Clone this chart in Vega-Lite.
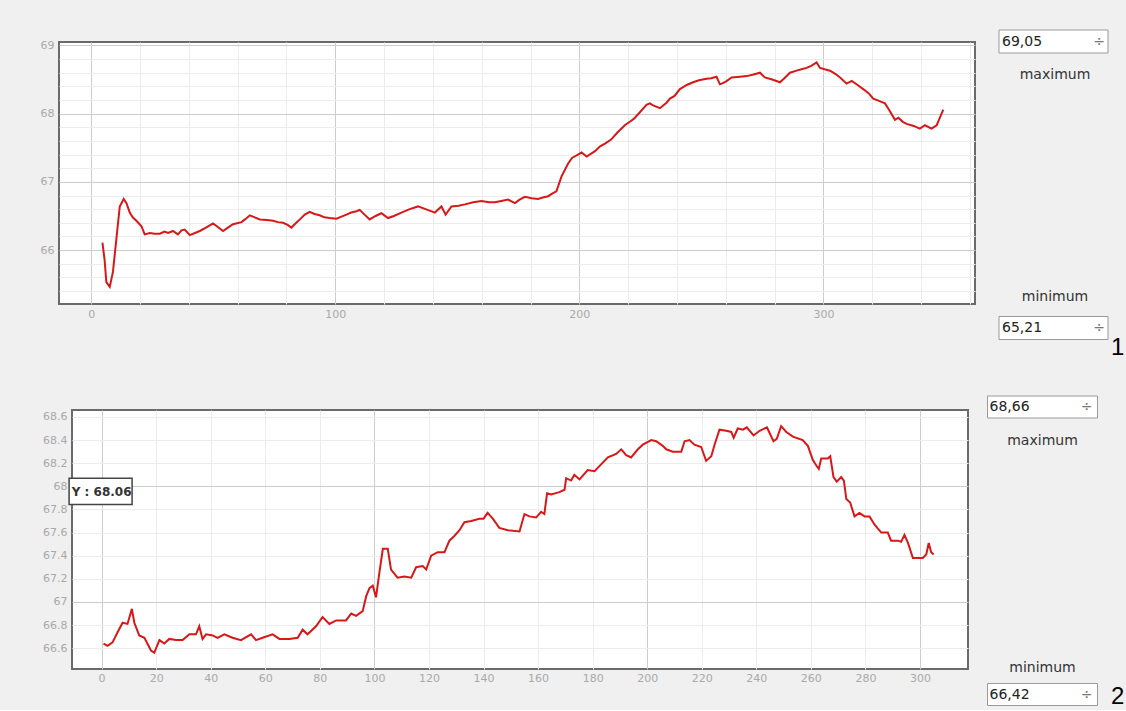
{
  "$schema": "https://vega.github.io/schema/vega-lite/v6.json",
  "background": "#f0f0f0",
  "padding": {"left": 39, "top": 27, "right": 0, "bottom": 0},
  "datasets": {
    "run1": [
      {"t":4.6,"v":66.11},{"t":5.5,"v":65.85},{"t":6.2,"v":65.53},{"t":7.6,"v":65.46},{"t":8.9,"v":65.68},{"t":10.3,"v":66.16},{"t":11.7,"v":66.64},{"t":13.3,"v":66.75},{"t":14.4,"v":66.69},{"t":15.8,"v":66.55},{"t":17,"v":66.48},{"t":18.5,"v":66.43},{"t":20.6,"v":66.35},{"t":21.9,"v":66.23},{"t":24,"v":66.25},{"t":26,"v":66.24},{"t":28.1,"v":66.24},{"t":30,"v":66.27},{"t":31.5,"v":66.25},{"t":33.5,"v":66.28},{"t":35.5,"v":66.23},{"t":37,"v":66.29},{"t":38.3,"v":66.3},{"t":40.4,"v":66.22},{"t":42.5,"v":66.25},{"t":44.5,"v":66.28},{"t":47,"v":66.33},{"t":49.9,"v":66.39},{"t":51.5,"v":66.35},{"t":54,"v":66.28},{"t":56,"v":66.33},{"t":58.1,"v":66.38},{"t":61.6,"v":66.41},{"t":63,"v":66.45},{"t":65,"v":66.51},{"t":67,"v":66.48},{"t":69.1,"v":66.45},{"t":72,"v":66.44},{"t":74.5,"v":66.43},{"t":76.5,"v":66.41},{"t":78.6,"v":66.4},{"t":80.5,"v":66.37},{"t":82,"v":66.33},{"t":84,"v":66.4},{"t":85.5,"v":66.45},{"t":87.5,"v":66.52},{"t":89.5,"v":66.56},{"t":91.5,"v":66.53},{"t":93.6,"v":66.51},{"t":95.5,"v":66.48},{"t":97.7,"v":66.47},{"t":100.5,"v":66.46},{"t":102.5,"v":66.49},{"t":104.6,"v":66.52},{"t":106.5,"v":66.55},{"t":108.7,"v":66.57},{"t":110,"v":66.59},{"t":112,"v":66.52},{"t":114.1,"v":66.45},{"t":116.5,"v":66.5},{"t":118.9,"v":66.54},{"t":121.6,"v":66.47},{"t":124,"v":66.5},{"t":127.1,"v":66.55},{"t":130.5,"v":66.6},{"t":133.9,"v":66.64},{"t":137,"v":66.6},{"t":140.8,"v":66.55},{"t":143.5,"v":66.64},{"t":145.2,"v":66.52},{"t":147.6,"v":66.64},{"t":150.5,"v":66.65},{"t":153.1,"v":66.67},{"t":156.5,"v":66.7},{"t":159.9,"v":66.72},{"t":163,"v":66.7},{"t":165.4,"v":66.7},{"t":168,"v":66.72},{"t":170.8,"v":66.74},{"t":173.6,"v":66.69},{"t":175.5,"v":66.74},{"t":177.7,"v":66.78},{"t":180.5,"v":66.76},{"t":183.1,"v":66.75},{"t":185,"v":66.77},{"t":187.2,"v":66.79},{"t":189,"v":66.83},{"t":190.6,"v":66.86},{"t":192.7,"v":67.08},{"t":195.4,"v":67.27},{"t":197,"v":67.35},{"t":198.9,"v":67.39},{"t":200.9,"v":67.43},{"t":203,"v":67.37},{"t":206.4,"v":67.45},{"t":208.5,"v":67.52},{"t":210.5,"v":67.56},{"t":213,"v":67.62},{"t":215.5,"v":67.72},{"t":218.6,"v":67.83},{"t":221.4,"v":67.9},{"t":222.5,"v":67.93},{"t":224.8,"v":68.02},{"t":227.5,"v":68.13},{"t":228.9,"v":68.15},{"t":230.2,"v":68.12},{"t":233,"v":68.08},{"t":235.7,"v":68.16},{"t":237.1,"v":68.22},{"t":239,"v":68.26},{"t":241.2,"v":68.36},{"t":244,"v":68.42},{"t":246.6,"v":68.46},{"t":249,"v":68.49},{"t":252.1,"v":68.51},{"t":254,"v":68.52},{"t":256.2,"v":68.54},{"t":257.6,"v":68.43},{"t":258.3,"v":68.44},{"t":260,"v":68.47},{"t":262.4,"v":68.53},{"t":265.8,"v":68.54},{"t":268.5,"v":68.55},{"t":271,"v":68.57},{"t":274,"v":68.6},{"t":276,"v":68.53},{"t":279,"v":68.5},{"t":282.2,"v":68.46},{"t":284,"v":68.52},{"t":286.3,"v":68.6},{"t":289,"v":68.63},{"t":291,"v":68.65},{"t":293.1,"v":68.67},{"t":295,"v":68.7},{"t":297.2,"v":68.75},{"t":298.6,"v":68.67},{"t":300.5,"v":68.65},{"t":302.7,"v":68.63},{"t":305,"v":68.58},{"t":306.8,"v":68.53},{"t":309.5,"v":68.44},{"t":311.6,"v":68.48},{"t":314,"v":68.42},{"t":316.3,"v":68.36},{"t":318.5,"v":68.3},{"t":320.4,"v":68.22},{"t":322.5,"v":68.19},{"t":325.2,"v":68.15},{"t":327,"v":68.05},{"t":329.3,"v":67.91},{"t":330.7,"v":67.94},{"t":332.5,"v":67.88},{"t":334.1,"v":67.85},{"t":337,"v":67.82},{"t":339.5,"v":67.78},{"t":341.6,"v":67.83},{"t":344.3,"v":67.78},{"t":346.4,"v":67.83},{"t":347.8,"v":67.95},{"t":349.1,"v":68.06}
    ],
    "run2": [
      {"t":0.7,"v":66.64},{"t":2.2,"v":66.62},{"t":4,"v":66.65},{"t":5.9,"v":66.74},{"t":7.7,"v":66.82},{"t":9.5,"v":66.81},{"t":11.1,"v":66.94},{"t":12,"v":66.82},{"t":13.8,"v":66.71},{"t":15.7,"v":66.69},{"t":18.1,"v":66.58},{"t":19.3,"v":66.56},{"t":21.2,"v":66.67},{"t":23,"v":66.64},{"t":24.8,"v":66.68},{"t":27.3,"v":66.67},{"t":29.7,"v":66.67},{"t":32.2,"v":66.72},{"t":34.6,"v":66.72},{"t":35.8,"v":66.79},{"t":37,"v":66.68},{"t":38.3,"v":66.72},{"t":40.7,"v":66.71},{"t":42.5,"v":66.69},{"t":45,"v":66.72},{"t":48,"v":66.69},{"t":51.1,"v":66.67},{"t":54.8,"v":66.72},{"t":56.6,"v":66.67},{"t":59,"v":66.69},{"t":62.7,"v":66.72},{"t":65.2,"v":66.68},{"t":68.8,"v":66.68},{"t":71.9,"v":66.69},{"t":73.7,"v":66.76},{"t":75.5,"v":66.72},{"t":78.6,"v":66.79},{"t":81,"v":66.87},{"t":83.5,"v":66.81},{"t":86,"v":66.84},{"t":89.6,"v":66.84},{"t":91.5,"v":66.9},{"t":93.3,"v":66.88},{"t":95.7,"v":66.92},{"t":97,"v":67.05},{"t":98.2,"v":67.12},{"t":99.4,"v":67.14},{"t":100.6,"v":67.04},{"t":101.8,"v":67.25},{"t":103.1,"v":67.46},{"t":104.9,"v":67.46},{"t":106.1,"v":67.28},{"t":108.5,"v":67.21},{"t":111,"v":67.22},{"t":113.5,"v":67.21},{"t":115.3,"v":67.3},{"t":117.7,"v":67.31},{"t":119,"v":67.28},{"t":120.8,"v":67.4},{"t":123.2,"v":67.43},{"t":125.7,"v":67.43},{"t":127.5,"v":67.53},{"t":129.3,"v":67.57},{"t":131.2,"v":67.62},{"t":133,"v":67.69},{"t":135.5,"v":67.7},{"t":138.5,"v":67.72},{"t":140,"v":67.72},{"t":141.5,"v":67.77},{"t":143.4,"v":67.72},{"t":145.8,"v":67.64},{"t":148.9,"v":67.62},{"t":153.2,"v":67.61},{"t":155,"v":67.76},{"t":156.8,"v":67.74},{"t":159.3,"v":67.73},{"t":161.1,"v":67.78},{"t":162.3,"v":67.76},{"t":163.3,"v":67.94},{"t":164.8,"v":67.93},{"t":167.8,"v":67.95},{"t":169.7,"v":67.97},{"t":170.3,"v":68.07},{"t":172.1,"v":68.05},{"t":173.3,"v":68.1},{"t":175.2,"v":68.06},{"t":178.2,"v":68.14},{"t":180.7,"v":68.13},{"t":183.1,"v":68.19},{"t":185.6,"v":68.25},{"t":188.6,"v":68.28},{"t":190.5,"v":68.32},{"t":192.3,"v":68.27},{"t":194.1,"v":68.25},{"t":196.6,"v":68.32},{"t":198.4,"v":68.36},{"t":201.5,"v":68.4},{"t":203.3,"v":68.39},{"t":205.7,"v":68.35},{"t":207,"v":68.32},{"t":209.4,"v":68.3},{"t":212.5,"v":68.3},{"t":213.7,"v":68.39},{"t":215.5,"v":68.4},{"t":217.3,"v":68.36},{"t":219.8,"v":68.34},{"t":221.6,"v":68.22},{"t":223.5,"v":68.26},{"t":224.7,"v":68.36},{"t":226.5,"v":68.49},{"t":229,"v":68.48},{"t":230.8,"v":68.47},{"t":231.7,"v":68.42},{"t":233.2,"v":68.5},{"t":235.1,"v":68.49},{"t":236.5,"v":68.51},{"t":239,"v":68.44},{"t":241.2,"v":68.48},{"t":243.9,"v":68.51},{"t":244.7,"v":68.47},{"t":246.3,"v":68.39},{"t":247.5,"v":68.41},{"t":249.1,"v":68.52},{"t":251,"v":68.47},{"t":253.4,"v":68.43},{"t":257,"v":68.4},{"t":258.9,"v":68.35},{"t":260.7,"v":68.23},{"t":262,"v":68.18},{"t":262.9,"v":68.15},{"t":263.8,"v":68.24},{"t":266.2,"v":68.24},{"t":267.1,"v":68.26},{"t":268.3,"v":68.08},{"t":269.5,"v":68.04},{"t":271.1,"v":68.08},{"t":272.1,"v":68.05},{"t":273,"v":67.89},{"t":274.4,"v":67.86},{"t":276,"v":67.74},{"t":277.8,"v":67.77},{"t":279.7,"v":67.74},{"t":281.5,"v":67.74},{"t":283.3,"v":67.67},{"t":285.8,"v":67.6},{"t":288.2,"v":67.6},{"t":289.4,"v":67.53},{"t":291.9,"v":67.53},{"t":293.1,"v":67.52},{"t":294.3,"v":67.58},{"t":295.6,"v":67.51},{"t":297.4,"v":67.38},{"t":301,"v":67.38},{"t":302.3,"v":67.41},{"t":303.2,"v":67.51},{"t":304.1,"v":67.43},{"t":305,"v":67.41}
    ]
  },
  "config": {
    "font": "DejaVu Sans",
    "view": {"fill": "white", "stroke": "#6a6a6a", "strokeWidth": 2},
    "axis": {"labelColor": "#a9a9a9", "labelFont": "DejaVu Sans", "labelFontSize": 11, "ticks": false, "tickSize": 0, "domain": false, "grid": true, "gridWidth": 1, "labelOverlap": false}
  },
  "vconcat": [
    {
      "width": 916,
      "height": 262,
      "layer": [
        {
          "data": {"name": "run1"},
          "mark": {"type": "line", "color": "#d81818", "strokeWidth": 2, "clip": true},
          "encoding": {
            "x": {"field": "t", "type": "quantitative",
              "scale": {"domain": [-13.2, 362.1], "nice": false, "zero": false},
              "axis": {"title": null, "tickCount": 200, "values": [0,20,40,60,80,100,120,140,160,180,200,220,240,260,280,300,320,340,360],
                "labelExpr": "datum.value % 100 === 0 ? format(datum.value, 'd') : ''",
                "labelPadding": 4,
                "gridColor": {"condition": {"test": "datum.value % 100 === 0", "value": "#cdcdcd"}, "value": "#ececec"}}},
            "y": {"field": "v", "type": "quantitative",
              "scale": {"domain": [65.21, 69.05], "nice": false, "zero": false},
              "axis": {"title": null, "tickCount": 200, "values": [65.4,65.6,65.8,66,66.2,66.4,66.6,66.8,67,67.2,67.4,67.6,67.8,68,68.2,68.4,68.6,68.8,69],
                "labelExpr": "abs(datum.value - round(datum.value)) < 0.01 ? format(datum.value, 'd') : ''",
                "labelPadding": 5,
                "gridColor": {"condition": {"test": "abs(datum.value - round(datum.value)) < 0.01", "value": "#cdcdcd"}, "value": "#ececec"}}}
          }
        },
        {"mark": {"type": "rule", "color": "#c0404c", "strokeWidth": 1.5}, "encoding": {"x": {"datum": 0}}},
        {"data": {"values": [{}]}, "mark": {"type": "point", "shape": "M-1,-0.211H1V0.211H-1Z", "size": 11881, "filled": true, "fill": "white", "stroke": "#9a9a9a", "strokeWidth": 1, "opacity": 1, "xOffset": 78.5, "yOffset": -0.5, "clip": false},
          "encoding": {"x": {"value": "width"}, "y": {"datum": 69.05}}},
        {"data": {"values": [{}]}, "mark": {"type": "point", "shape": "M-1,-0.211H1V0.211H-1Z", "size": 11881, "filled": true, "fill": "white", "stroke": "#9a9a9a", "strokeWidth": 1, "opacity": 1, "xOffset": 78.5, "yOffset": 24, "clip": false},
          "encoding": {"x": {"value": "width"}, "y": {"datum": 65.21}}},
        {"data": {"values": [{}]}, "mark": {"type": "text", "align": "left", "baseline": "middle", "fontSize": 14, "color": "#222", "dx": 27, "dy": -0.5, "clip": false},
          "encoding": {"x": {"value": "width"}, "y": {"datum": 69.05}, "text": {"value": "69,05"}}},
        {"data": {"values": [{}]}, "mark": {"type": "text", "align": "left", "baseline": "middle", "fontSize": 14, "color": "#222", "dx": 27, "dy": 24, "clip": false},
          "encoding": {"x": {"value": "width"}, "y": {"datum": 65.21}, "text": {"value": "65,21"}}},
        {"data": {"values": [{}]}, "mark": {"type": "text", "align": "center", "baseline": "middle", "fontSize": 14, "color": "#777", "dx": 124, "dy": -0.5, "clip": false},
          "encoding": {"x": {"value": "width"}, "y": {"datum": 69.05}, "text": {"value": "÷"}}},
        {"data": {"values": [{}]}, "mark": {"type": "text", "align": "center", "baseline": "middle", "fontSize": 14, "color": "#777", "dx": 124, "dy": 24, "clip": false},
          "encoding": {"x": {"value": "width"}, "y": {"datum": 65.21}, "text": {"value": "÷"}}},
        {"data": {"values": [{}]}, "mark": {"type": "text", "align": "center", "baseline": "middle", "fontSize": 14, "color": "#333", "dx": 80, "dy": 33, "clip": false},
          "encoding": {"x": {"value": "width"}, "y": {"datum": 69.05}, "text": {"value": "maximum"}}},
        {"data": {"values": [{}]}, "mark": {"type": "text", "align": "center", "baseline": "middle", "fontSize": 14, "color": "#333", "dx": 80, "dy": -7, "clip": false},
          "encoding": {"x": {"value": "width"}, "y": {"datum": 65.21}, "text": {"value": "minimum"}}},
        {"data": {"values": [{}]}, "mark": {"type": "text", "align": "left", "baseline": "middle", "fontSize": 24, "font": "Liberation Sans", "color": "#000", "dx": 136, "dy": 44, "clip": false},
          "encoding": {"x": {"value": "width"}, "y": {"datum": 65.21}, "text": {"value": "1"}}}
      ]
    },
    {
      "bounds": "flush",
      "spacing": 12,
      "hconcat": [
        {"width": 1, "height": 1, "view": {"stroke": null, "fill": null}, "data": {"values": [{}]}, "mark": {"type": "point", "opacity": 0}, "encoding": {}},
        {
          "width": 896,
          "height": 259,
          "layer": [
            {
              "data": {"name": "run2"},
              "mark": {"type": "line", "color": "#d81818", "strokeWidth": 2, "clip": true},
              "encoding": {
                "x": {"field": "t", "type": "quantitative",
                  "scale": {"domain": [-10.85, 317.6], "nice": false, "zero": false},
                  "axis": {"title": null, "tickCount": 200, "values": [0,20,40,60,80,100,120,140,160,180,200,220,240,260,280,300],
                    "labelExpr": "format(datum.value, 'd')",
                    "labelPadding": 3,
                    "gridColor": {"condition": {"test": "datum.value % 100 === 0", "value": "#cdcdcd"}, "value": "#ececec"}}},
                "y": {"field": "v", "type": "quantitative",
                  "scale": {"domain": [66.42, 68.66], "nice": false, "zero": false},
                  "axis": {"title": null, "tickCount": 200, "values": [66.6,66.8,67,67.2,67.4,67.6,67.8,68,68.2,68.4,68.6],
                    "labelExpr": "format(datum.value, '.3~g')",
                    "labelPadding": 5,
                    "gridColor": {"condition": {"test": "abs(datum.value - round(datum.value)) < 0.01", "value": "#cdcdcd"}, "value": "#ececec"}}}
              }
            },
            {"mark": {"type": "rule", "color": "#d0393f", "strokeWidth": 1.5}, "encoding": {"y": {"datum": 68.06}}},
            {"data": {"values": [{}]}, "mark": {"type": "point", "shape": "M-1,-0.413H1V0.413H-1Z", "size": 3969, "filled": true, "fill": "white", "stroke": "#444", "strokeWidth": 1.5, "opacity": 1, "xOffset": -1, "yOffset": 12, "clip": false},
              "encoding": {"x": {"datum": 0}, "y": {"datum": 68.06}}},
            {"data": {"values": [{}]}, "mark": {"type": "text", "align": "center", "baseline": "middle", "fontSize": 12, "fontWeight": "bold", "color": "#333", "dx": 0, "dy": 13, "clip": false},
              "encoding": {"x": {"datum": 0}, "y": {"datum": 68.06}, "text": {"value": "Y : 68.06"}}},
            {"data": {"values": [{}]}, "mark": {"type": "point", "shape": "M-1,-0.2H1V0.2H-1Z", "size": 12100, "filled": true, "fill": "white", "stroke": "#9a9a9a", "strokeWidth": 1, "opacity": 1, "xOffset": 74.5, "yOffset": -3, "clip": false},
              "encoding": {"x": {"value": "width"}, "y": {"datum": 68.66}}},
            {"data": {"values": [{}]}, "mark": {"type": "point", "shape": "M-1,-0.2H1V0.2H-1Z", "size": 12100, "filled": true, "fill": "white", "stroke": "#9a9a9a", "strokeWidth": 1, "opacity": 1, "xOffset": 74.5, "yOffset": 25.5, "clip": false},
              "encoding": {"x": {"value": "width"}, "y": {"datum": 66.42}}},
            {"data": {"values": [{}]}, "mark": {"type": "text", "align": "left", "baseline": "middle", "fontSize": 14, "color": "#222", "dx": 21.5, "dy": -3, "clip": false},
              "encoding": {"x": {"value": "width"}, "y": {"datum": 68.66}, "text": {"value": "68,66"}}},
            {"data": {"values": [{}]}, "mark": {"type": "text", "align": "left", "baseline": "middle", "fontSize": 14, "color": "#222", "dx": 21.5, "dy": 25.5, "clip": false},
              "encoding": {"x": {"value": "width"}, "y": {"datum": 66.42}, "text": {"value": "66,42"}}},
            {"data": {"values": [{}]}, "mark": {"type": "text", "align": "center", "baseline": "middle", "fontSize": 14, "color": "#777", "dx": 118.5, "dy": -3, "clip": false},
              "encoding": {"x": {"value": "width"}, "y": {"datum": 68.66}, "text": {"value": "÷"}}},
            {"data": {"values": [{}]}, "mark": {"type": "text", "align": "center", "baseline": "middle", "fontSize": 14, "color": "#777", "dx": 118.5, "dy": 25.5, "clip": false},
              "encoding": {"x": {"value": "width"}, "y": {"datum": 66.42}, "text": {"value": "÷"}}},
            {"data": {"values": [{}]}, "mark": {"type": "text", "align": "center", "baseline": "middle", "fontSize": 14, "color": "#333", "dx": 74.5, "dy": 31, "clip": false},
              "encoding": {"x": {"value": "width"}, "y": {"datum": 68.66}, "text": {"value": "maximum"}}},
            {"data": {"values": [{}]}, "mark": {"type": "text", "align": "center", "baseline": "middle", "fontSize": 14, "color": "#333", "dx": 74.5, "dy": -1, "clip": false},
              "encoding": {"x": {"value": "width"}, "y": {"datum": 66.42}, "text": {"value": "minimum"}}},
            {"data": {"values": [{}]}, "mark": {"type": "text", "align": "left", "baseline": "middle", "fontSize": 24, "font": "Liberation Sans", "color": "#000", "dx": 143, "dy": 28, "clip": false},
              "encoding": {"x": {"value": "width"}, "y": {"datum": 66.42}, "text": {"value": "2"}}}
          ]
        }
      ]
    }
  ],
  "bounds": "flush",
  "spacing": 106
}
